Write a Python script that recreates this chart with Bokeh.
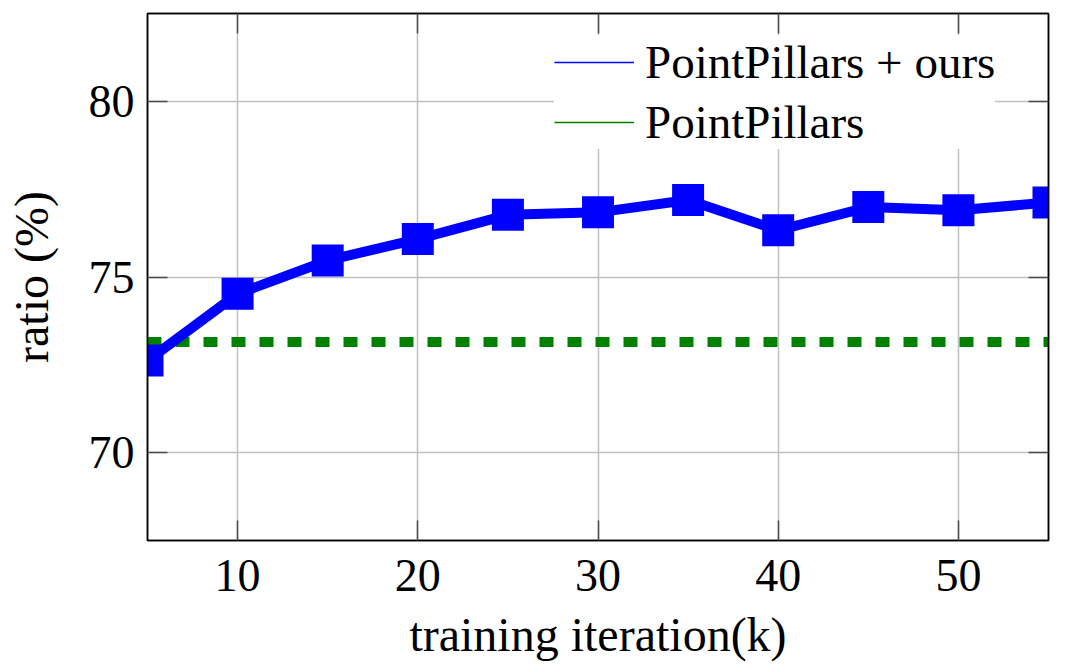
from bokeh.plotting import figure
from bokeh.models import LinearAxis, Legend, LegendItem, FixedTicker, Range1d, ColumnDataSource
from bokeh.embed import file_html
from bokeh.resources import INLINE

# data
iterations = [5, 10, 15, 20, 25, 30, 35, 40, 45, 50, 55]
ours = [72.62, 74.52, 75.47, 76.08, 76.77, 76.84, 77.19, 76.33, 76.99, 76.90, 77.12]
baseline_x = [5, 55]
baseline_y = [73.15, 73.15]
x_ticks = [10, 20, 30, 40, 50]
y_ticks = [70, 75, 80]
series_names = ["PointPillars + ours", "PointPillars"]

FONT = "Liberation Serif"
FS = "46px"
LFS = "48px"

p = figure(width=1063, height=663, output_backend="svg", toolbar_location=None,
           x_range=Range1d(5, 55), y_range=Range1d(67.5, 82.5),
           min_border_left=147, min_border_right=15, min_border_top=13, min_border_bottom=117)

p.outline_line_color = "black"
p.outline_line_width = 1.5

for ax in [p.xaxis[0], p.yaxis[0]]:
    ax.major_label_text_font = FONT
    ax.major_label_text_font_size = FS
    ax.major_label_text_color = "black"
    ax.axis_label_text_font = FONT
    ax.axis_label_text_font_size = LFS
    ax.axis_label_text_font_style = "normal"
    ax.axis_label_text_color = "black"
    ax.major_tick_in = 20
    ax.major_tick_out = 0
    ax.minor_tick_in = 0
    ax.minor_tick_out = 0
    ax.major_tick_line_color = "#4d4d4d"
    ax.major_tick_line_width = 1.5
    ax.axis_line_color = "black"
    ax.axis_line_width = 1.5

p.xaxis[0].ticker = FixedTicker(ticks=x_ticks)
p.yaxis[0].ticker = FixedTicker(ticks=y_ticks)
p.xaxis[0].axis_label = "training iteration(k)"
p.yaxis[0].axis_label = "ratio (%)"
p.xaxis[0].major_label_standoff = 19
p.yaxis[0].major_label_standoff = 13
p.xaxis[0].axis_label_standoff = 14
p.yaxis[0].axis_label_standoff = 28

for loc, tick_list in [("above", x_ticks), ("right", y_ticks)]:
    ax = LinearAxis(ticker=FixedTicker(ticks=tick_list))
    ax.major_label_text_font_size = "0px"
    ax.major_label_standoff = 0
    ax.major_tick_in = 20
    ax.major_tick_out = 0
    ax.minor_tick_in = 0
    ax.minor_tick_out = 0
    ax.major_tick_line_color = "#4d4d4d"
    ax.major_tick_line_width = 1.5
    ax.axis_line_color = "black"
    ax.axis_line_width = 1.5
    p.add_layout(ax, loc)

p.xgrid.ticker = FixedTicker(ticks=x_ticks)
p.ygrid.ticker = FixedTicker(ticks=y_ticks)
p.grid.grid_line_color = "#c0c0c0"
p.grid.grid_line_width = 1.5

# baseline (green dotted)
p.line(baseline_x, baseline_y, line_color="#008000", line_width=10, line_dash="14 14")

# ours (blue with squares)
src = ColumnDataSource(dict(x=iterations, y=ours))
p.line("x", "y", source=src, line_color="#0000ff", line_width=10)
p.scatter("x", "y", source=src, marker="square", size=32, fill_color="#0000ff", line_color="#0000ff", line_width=0)

# legend with thin sample lines (renderers placed outside the visible range)
l1 = p.line([-100, -99], [0, 0], line_color="#0000ff", line_width=1.5)
l2 = p.line([-100, -99], [0, 0], line_color="#008000", line_width=1.5)
legend = Legend(items=[LegendItem(label=series_names[0], renderers=[l1]),
                       LegendItem(label=series_names[1], renderers=[l2])],
                location=(407, 391))
legend.label_text_font = FONT
legend.label_text_font_size = "47px"
legend.label_text_color = "black"
legend.glyph_width = 80
legend.glyph_height = 50
legend.label_height = 50
legend.label_standoff = 11
legend.spacing = 6
legend.padding = 14
legend.margin = 0
legend.border_line_color = None
legend.background_fill_color = "white"
legend.background_fill_alpha = 1.0
p.add_layout(legend)

open("out.html", "w").write(file_html(p, INLINE))
